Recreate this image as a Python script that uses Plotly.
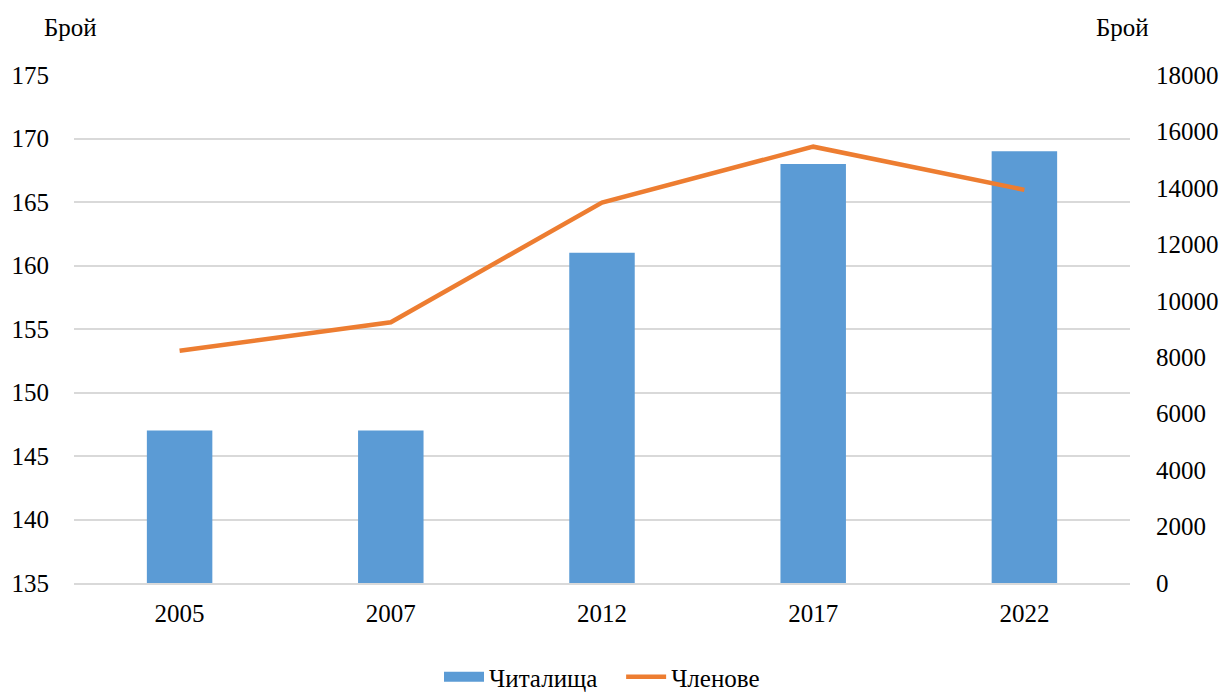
import plotly.graph_objects as go

years = ["2005", "2007", "2012", "2017", "2022"]
chitalishta = [147, 147, 161, 168, 169]
chlenove = [8230, 9240, 13480, 15460, 13930]

FONT = "Liberation Serif"
FS = 25
BLUE = "#5B9BD5"
ORANGE = "#ED7D31"

W, H = 1223, 696
l, r, t, b = 74, 93, 75, 113
pw, ph = W - l - r, H - t - b

def px(xp, yp):
    return (xp - l) / pw, (H - b - yp) / ph

fig = go.Figure()
fig.add_trace(go.Bar(
    x=years, y=chitalishta, name="Читалища",
    marker=dict(color=BLUE, line=dict(width=0)),
    yaxis="y", showlegend=False, legendgroup="a",
))
# legend-only entry giving a wide rectangular swatch like the reference
fig.add_trace(go.Scatter(
    x=[None], y=[None], name="Читалища\u00a0\u00a0\u00a0", mode="lines",
    line=dict(color=BLUE, width=14), legendgroup="a",
))
fig.add_trace(go.Scatter(
    x=years, y=chlenove, name="Членове", mode="lines",
    line=dict(color=ORANGE, width=4.5),
    yaxis="y2",
))

leg_y = px(0, 677)[1]
fig.update_layout(
    width=W, height=H,
    margin=dict(l=l, r=r, t=t, b=b, autoexpand=False),
    paper_bgcolor="white", plot_bgcolor="white",
    font=dict(family=FONT, size=FS, color="black"),
    bargap=0.69,
    showlegend=True,
    legend=dict(orientation="h", x=0.5, xanchor="center", y=leg_y, yanchor="middle",
                font=dict(family=FONT, size=FS), itemwidth=40, tracegroupgap=0,
                bgcolor="rgba(0,0,0,0)"),
    xaxis=dict(type="category", showgrid=False, showline=True, linecolor="#D9D9D9",
               linewidth=1.5, ticks="", ticklabelstandoff=7),
    yaxis=dict(range=[135, 175], dtick=5, tick0=135, showgrid=True, gridcolor="#D9D9D9",
               gridwidth=1.5, zeroline=False, showline=False, ticks="",
               ticklabelstandoff=24),
    yaxis2=dict(range=[0, 18000], dtick=2000, overlaying="y", side="right",
                showgrid=False, zeroline=False, showline=False, ticks="",
                tickformat="d", ticklabelstandoff=25),
)
ax1 = px(70, 28)
ax2 = px(1122, 28)
for a in (ax1, ax2):
    fig.add_annotation(text="Брой", x=a[0], y=a[1], xref="paper", yref="paper",
                       showarrow=False, xanchor="center", yanchor="middle",
                       font=dict(family=FONT, size=FS))

fig.write_html("out.html", config={"displayModeBar": False},
               post_script="document.body.style.margin='0';")
